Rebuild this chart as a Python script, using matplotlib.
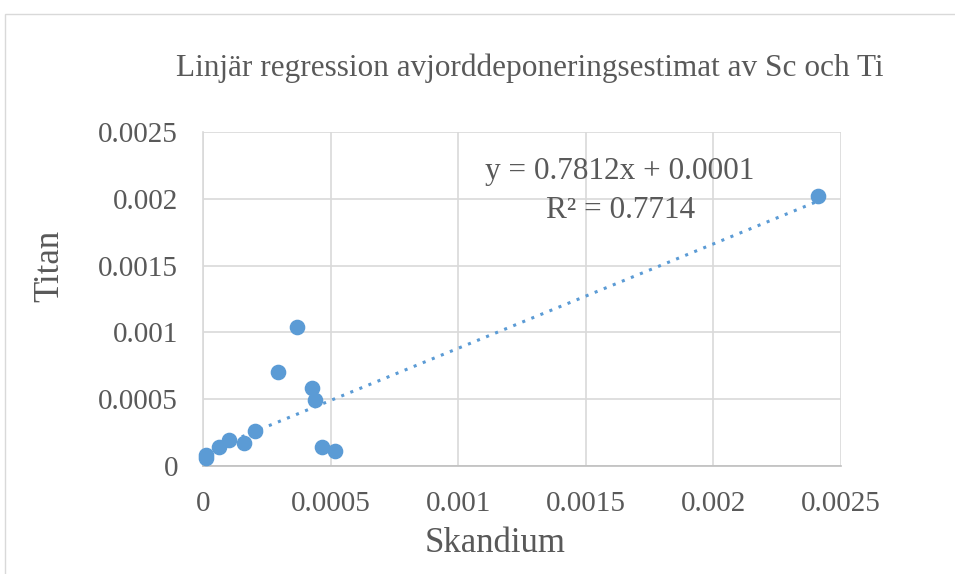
import numpy as np
import matplotlib
matplotlib.use('Agg')
import matplotlib.pyplot as plt
from matplotlib.patches import Rectangle

plt.rcParams['font.family'] = ['Liberation Serif', 'DejaVu Serif']

# data
skandium = [0.00001, 0.00001, 0.000063, 0.000102, 0.00016, 0.000204,
            0.000294, 0.000368, 0.000427, 0.000439, 0.000466, 0.000517, 0.00241]
titan = [0.00008, 0.00006, 0.000142, 0.000195, 0.000172, 0.000262,
         0.000704, 0.00104, 0.000584, 0.000494, 0.000142, 0.000112, 0.00202]
slope, intercept, r2 = 0.7812, 0.0001, 0.7714

ticks = [0, 0.0005, 0.001, 0.0015, 0.002, 0.0025]
tick_labels = ['0', '0.0005', '0.001', '0.0015', '0.002', '0.0025']

blue = '#5B9BD5'
grey_txt = '#595959'
W, H = 955, 574

fig = plt.figure(figsize=(9.55, 5.74), dpi=100)
fig.patches.append(Rectangle((5 / W, -0.1), 1.2, 1 - 14 / H + 0.1,
                             transform=fig.transFigure, fill=False,
                             edgecolor='#D9D9D9', lw=1.0))

ax = fig.add_axes([203 / W, 1 - 466 / H, (841 - 203) / W, (466 - 132) / H])
ax.set_xlim(0, 0.0025)
ax.set_ylim(0, 0.0025)
ax.set_xticks(ticks)
ax.set_xticklabels(tick_labels)
ax.set_yticks(ticks)
ax.set_yticklabels(tick_labels)
ax.tick_params(length=0, labelsize=21, labelcolor=grey_txt, pad=18)
ax.grid(True, color='#D9D9D9', lw=1.2)
ax.set_axisbelow(True)
for s in ['top', 'right']:
    ax.spines[s].set_visible(False)
ax.spines['left'].set_color('#D9D9D9')
ax.spines['bottom'].set_color('#BFBFBF')
ax.spines['left'].set_linewidth(1.2)
ax.spines['bottom'].set_linewidth(1.2)

xs = np.array([min(skandium), max(skandium)])
ax.plot(xs, slope * xs + intercept, color=blue, lw=2.2, ls=(0, (1, 2.2)),
        zorder=2)
ax.scatter(skandium, titan, s=105, color=blue, zorder=3, clip_on=False)

fig.text(530 / W, 1 - 68 / H,
         'Linjär regression avjorddeponeringsestimat av Sc och Ti',
         ha='center', va='center', fontsize=22.5, color=grey_txt)
fig.text(620 / W, 1 - 172 / H, f'y = {slope}x + {intercept:.4f}',
         ha='center', va='center', fontsize=22.5, color=grey_txt)
fig.text(621 / W, 1 - 210 / H, f'R² = {r2}',
         ha='center', va='center', fontsize=22.5, color=grey_txt)
fig.text(50 / W, 1 - 266 / H, 'Titan', rotation=90,
         ha='center', va='center', fontsize=25, color=grey_txt)
fig.text(495 / W, 1 - 543 / H, 'Skandium',
         ha='center', va='center', fontsize=25, color=grey_txt)

fig.savefig('out.png', dpi=100)
